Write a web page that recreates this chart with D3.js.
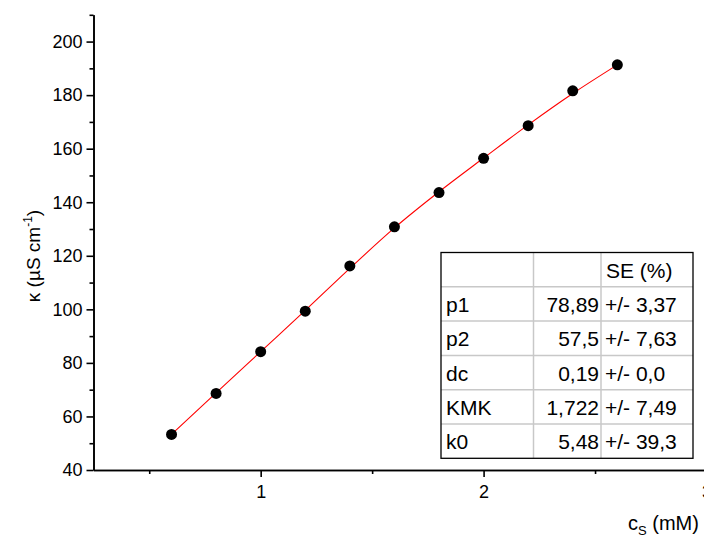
<!DOCTYPE html>
<html>
<head>
<meta charset="utf-8">
<script src="https://cdn.jsdelivr.net/npm/d3@7"></script>
<style>
  html, body { margin: 0; padding: 0; background: #fff; }
  svg { display: block; font-family: "Liberation Sans", Arial, sans-serif; }
</style>
</head>
<body>
<svg id="chart" width="704" height="539"></svg>
<script>
// ---- data ----
const concentrations = [0.6, 0.8, 1.0, 1.2, 1.4, 1.6, 1.8, 2.0, 2.2, 2.4, 2.6];
const conductivity = [53.3, 68.6, 84.2, 99.3, 116.2, 130.8, 143.6, 156.4, 168.6, 181.6, 191.3];
const fitValues = [53.3, 68.8, 84.2, 99.6, 115.3, 130.4, 143.9, 156.5, 168.9, 180.6, 191.3];
const xMajorTicks = [1, 2, 3];
const xMinorTicks = [0.5, 1.5, 2.5];
const yMajorTicks = [40, 60, 80, 100, 120, 140, 160, 180, 200];
const yMinorTicks = [50, 70, 90, 110, 130, 150, 170, 190, 210];
const tableHeader = ["", "", "SE (%)"];
const tableParams = ["p1", "p2", "dc", "KMK", "k0"];
const tableValues = ["78,89", "57,5", "0,19", "1,722", "5,48"];
const tableSE = ["+/- 3,37", "+/- 7,63", "+/- 0,0", "+/- 7,49", "+/- 39,3"];

// ---- layout ----
const svg = d3.select("#chart");
svg.append("rect").attr("width", 704).attr("height", 539).attr("fill", "#fff");

const x = d3.scaleLinear().domain([0.25, 3]).range([93.5, 706.5]);
const y = d3.scaleLinear().domain([40, 210]).range([470, 14.8]);

const axisColor = "#000";
const tickFont = 18;

// X axis
const gx = svg.append("g").attr("transform", `translate(0,${y(40)})`);
gx.call(d3.axisBottom(x).tickValues(xMajorTicks).tickSize(7).tickSizeOuter(0).tickPadding(8).tickFormat(d3.format("d")));
gx.append("g").call(d3.axisBottom(x).tickValues(xMinorTicks).tickSize(4).tickSizeOuter(0).tickFormat(""));
gx.selectAll("path.domain").attr("stroke", axisColor).attr("stroke-width", 1.6);
gx.selectAll(".tick line").attr("stroke", axisColor).attr("stroke-width", 1.6);
gx.selectAll(".tick text").attr("font-size", tickFont).attr("fill", "#000").attr("font-family", "Liberation Sans, Arial, sans-serif");

// Y axis
const gy = svg.append("g").attr("transform", `translate(${x(0.25)},0)`);
gy.call(d3.axisLeft(y).tickValues(yMajorTicks).tickSize(7).tickSizeOuter(0).tickPadding(4).tickFormat(d3.format("d")));
gy.append("g").call(d3.axisLeft(y).tickValues(yMinorTicks).tickSize(4).tickSizeOuter(0).tickFormat(""));
gy.selectAll("path.domain").attr("stroke", axisColor).attr("stroke-width", 1.6);
gy.selectAll(".tick line").attr("stroke", axisColor).attr("stroke-width", 1.6);
gy.selectAll(".tick text").attr("font-size", tickFont).attr("fill", "#000").attr("font-family", "Liberation Sans, Arial, sans-serif");

// Axis titles
const yTitle = svg.append("text")
  .attr("transform", `translate(40,256) rotate(-90)`)
  .attr("text-anchor", "middle")
  .attr("font-size", 19)
  .attr("fill", "#000");
yTitle.append("tspan").text("κ (µS cm");
yTitle.append("tspan").attr("dy", -8).attr("font-size", 12).text("-1");
yTitle.append("tspan").attr("dy", 8).text(")");

const xTitle = svg.append("text")
  .attr("x", 628).attr("y", 530)
  .attr("font-size", 20)
  .attr("fill", "#000");
xTitle.append("tspan").text("c");
xTitle.append("tspan").attr("dy", 5).attr("font-size", 13).text("S");
xTitle.append("tspan").attr("dy", -5).text(" (mM)");

// Fit line
const line = d3.line()
  .x((d, i) => x(concentrations[i]))
  .y(d => y(d))
  .curve(d3.curveMonotoneX);
svg.append("path")
  .datum(fitValues)
  .attr("d", line)
  .attr("fill", "none")
  .attr("stroke", "#ff0000")
  .attr("stroke-width", 1.1);

// Points
svg.append("g").selectAll("circle")
  .data(conductivity)
  .join("circle")
  .attr("cx", (d, i) => x(concentrations[i]))
  .attr("cy", d => y(d))
  .attr("r", 5.5)
  .attr("fill", "#000");

// Table
const tX = [441, 533.5, 601, 693];
const tY0 = 252.5, rowH = 34.3;
const nRows = tableParams.length + 1;
const tg = svg.append("g");
tg.append("rect").attr("x", tX[0]).attr("y", tY0).attr("width", tX[3] - tX[0]).attr("height", rowH * nRows)
  .attr("fill", "#fff");
for (let r = 1; r < nRows; r++) {
  tg.append("line").attr("x1", tX[0]).attr("x2", tX[3])
    .attr("y1", tY0 + r * rowH).attr("y2", tY0 + r * rowH)
    .attr("stroke", "#c8c8c8").attr("stroke-width", 1.5);
}
[tX[1], tX[2]].forEach(cx => {
  tg.append("line").attr("x1", cx).attr("x2", cx)
    .attr("y1", tY0).attr("y2", tY0 + rowH * nRows)
    .attr("stroke", "#c8c8c8").attr("stroke-width", 1.5);
});
tg.append("rect").attr("x", tX[0]).attr("y", tY0).attr("width", tX[3] - tX[0]).attr("height", rowH * nRows)
  .attr("fill", "none").attr("stroke", "#000").attr("stroke-width", 1.3);

const tFont = 21;
tg.append("text").attr("x", tX[2] + 5).attr("y", tY0 + rowH / 2 + 8).attr("font-size", tFont).text(tableHeader[2]);
tableParams.forEach((p, i) => {
  const cy = tY0 + (i + 1.5) * rowH + 8;
  tg.append("text").attr("x", tX[0] + 5).attr("y", cy).attr("font-size", tFont).text(p);
  tg.append("text").attr("x", tX[2] - 2).attr("y", cy).attr("font-size", tFont).attr("text-anchor", "end").text(tableValues[i]);
  tg.append("text").attr("x", tX[2] + 4).attr("y", cy).attr("font-size", tFont).text(tableSE[i]);
});
</script>
</body>
</html>
